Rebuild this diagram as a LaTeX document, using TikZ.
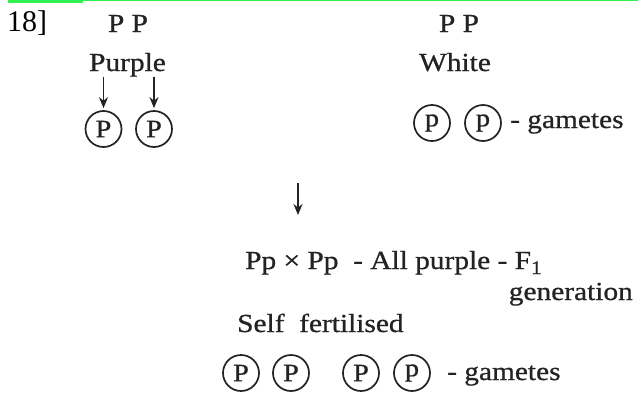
\documentclass[tikz,border=0pt]{standalone}
\usepackage{fontspec}
\setmainfont{Liberation Serif}
\newfontfamily\diag[FakeStretch=1.13,FakeBold=0.8]{Liberation Serif}
\usetikzlibrary{arrows.meta}
\definecolor{topgreen}{RGB}{50,240,80}
\definecolor{ink}{RGB}{35,35,35}
\begin{document}
\begin{tikzpicture}[x=1pt,y=-1pt,
  txt/.style={inner sep=0pt, font=\diag\fontsize{26}{30}\selectfont, text=ink},
  gam/.style={circle, draw=ink, line width=1.7pt, minimum size=36pt, inner sep=0pt,
    font=\diag\fontsize{25}{28}\selectfont, text=ink},
  arr/.style={draw=ink, line width=1.9pt, -{Stealth[length=11pt,width=9pt]}}]
\useasboundingbox (0,0) rectangle (638,394);
\fill[topgreen] (8,0) rectangle (83,2.6);
\fill[topgreen] (83,0) rectangle (638,1.3);
\node[anchor=base west, inner sep=0pt, font=\fontsize{30}{32}\selectfont] (num) at (7,31) {18]};
% left parent
\node[txt, anchor=base] (ppL) at (128,32) {P P};
\node[txt, anchor=base] (purple) at (127.5,71) {Purple};
\node[gam] (g1) at (103.5,129) {P};
\node[gam] (g2) at (154,129) {P};
\draw[arr, shorten >=2pt] (g1 |- purple.south) -- (g1.north);
\draw[arr, shorten >=2pt] (g2 |- purple.south) -- (g2.north);
% right parent
\node[txt, anchor=base] (ppR) at (459,32) {P P};
\node[txt, anchor=base] (white) at (455,71) {White};
\node[gam] (g3) at (432,123) {p};
\node[gam] (g4) at (483,123) {p};
\node[txt, anchor=base west] (gamR) at (510,128) {- gametes};
% middle arrow
\coordinate (a1) at (298,183);
\coordinate (a2) at (298,215);
\draw[arr] (a1) -- (a2);
% F1
\node[txt, anchor=base west] (f1) at (245,269) {Pp × Pp \ - All purple - F\raisebox{-5pt}{\fontsize{19}{20}\selectfont 1}};
\node[txt, anchor=base east] (gen) at (633,300) {generation};
\node[txt, anchor=base west] (self) at (237,332) {Self\ \ fertilised};
% bottom gametes
\node[gam] (b1) at (241,373) {P};
\node[gam] (b2) at (291,373) {P};
\node[gam] (b3) at (361,373) {P};
\node[gam] (b4) at (412,373) {p};
\node[txt, anchor=base west] (gamB) at (447,380) {- gametes};
\end{tikzpicture}
\end{document}
